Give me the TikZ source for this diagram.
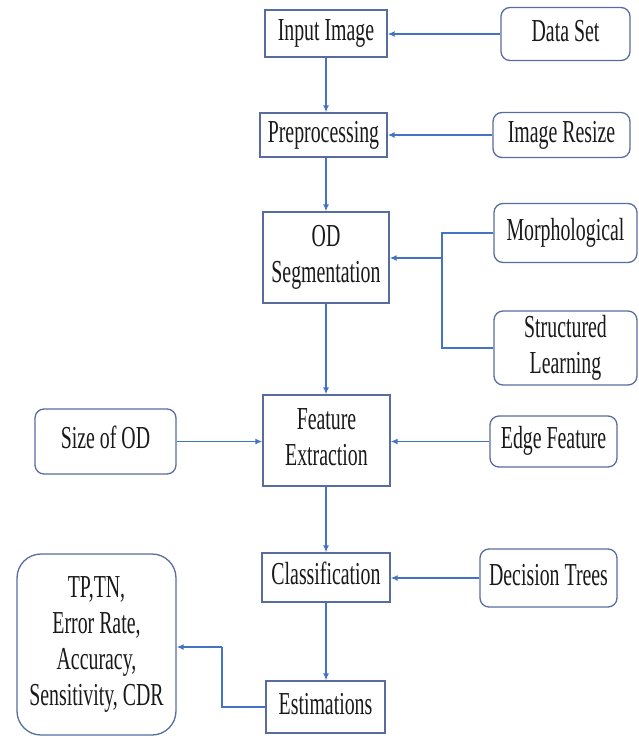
\documentclass[tikz,border=0pt]{standalone}
\usepackage{fontspec}
\setmainfont{Liberation Serif}
\newfontfamily\tnr{Liberation Serif}
\usetikzlibrary{arrows.meta}
\definecolor{boxc}{RGB}{88,108,158}
\definecolor{arrc}{RGB}{68,114,196}
\newcommand{\sq}[1]{\scalebox{0.62}[1]{\begin{tabular}{@{}c@{}}#1\end{tabular}}}
\tikzset{
  blk/.style={draw=boxc, line width=1.3pt, rectangle, inner sep=0pt, font=\tnr\fontsize{32}{36}\selectfont, text=black!90},
  rbox/.style={blk, rounded corners=9pt},
  arr/.style={draw=arrc, line width=1.6pt, -{Latex[length=7pt,width=6pt]}},
  ln/.style={draw=arrc, line width=1.6pt}
}
\begin{document}
\begin{tikzpicture}[x=1pt,y=-1pt]
\useasboundingbox (0,0) rectangle (638,736);
% main column
\node[blk, minimum width=122pt, minimum height=47pt] (input) at (326,33.5) {\sq{Input Image}};
\node[blk, minimum width=127pt, minimum height=44pt] (prep) at (323.5,135) {\sq{Preprocessing}};
\node[blk, minimum width=126pt, minimum height=91pt] (od) at (326,257.5) {\sq{OD\\Segmentation}};
\node[blk, minimum width=127pt, minimum height=91pt] (feat) at (326.5,440.5) {\sq{Feature\\Extraction}};
\node[blk, minimum width=128pt, minimum height=49pt] (class) at (326,577.5) {\sq{Classification}};
\node[blk, minimum width=119pt, minimum height=52pt] (estim) at (325.5,707) {\sq{Estimations}};
% side boxes
\node[rbox, minimum width=129pt, minimum height=53pt] (data) at (565.5,34) {\sq{Data Set}};
\node[rbox, minimum width=137pt, minimum height=45pt] (resize) at (561.5,135) {\sq{Image Resize}};
\node[rbox, minimum width=143pt, minimum height=59pt] (morph) at (565.5,233) {\sq{Morphological}};
\node[rbox, minimum width=143pt, minimum height=74pt] (struct) at (565.5,348) {\sq{Structured\\Learning}};
\node[rbox, minimum width=141pt, minimum height=65pt] (size) at (105.5,441.5) {\sq{Size of OD}};
\node[rbox, minimum width=127pt, minimum height=51pt] (edge) at (553.5,441.5) {\sq{Edge Feature}};
\node[rbox, minimum width=137pt, minimum height=58pt] (dtree) at (548.5,578) {\sq{Decision Trees}};
\node[blk, rounded corners=24pt, minimum width=159pt, minimum height=181pt] (tp) at (96.5,644.5) {\sq{TP,TN,\\Error Rate,\\Accuracy,\\Sensitivity, CDR}};
% vertical arrows
\draw[arr] (input.south) -- (input.south |- prep.north);
\draw[arr] (input.south |- prep.south) -- (input.south |- od.north);
\draw[arr] (od.south) -- (od.south |- feat.north);
\draw[arr] (od.south |- feat.south) -- (od.south |- class.north);
\draw[arr] (class.south) -- (class.south |- estim.north);
% side arrows
\draw[arr] (data.west) -- (data.west -| input.east);
\draw[arr] (resize.west) -- (resize.west -| prep.east);
\coordinate (j) at (442,258);
\draw[ln] (morph.west) -| (j);
\draw[ln] (struct.west) -| (j);
\draw[arr] (j) -- (j -| od.east);
\draw[arr] (size.east) -- (size.east -| feat.west);
\draw[arr] (edge.west) -- (edge.west -| feat.east);
\draw[arr] (dtree.west) -- (dtree.west -| class.east);
\coordinate (k) at (222,647);
\draw[ln] (estim.west) -| (k);
\draw[arr] (k) -- (k -| tp.east);
\end{tikzpicture}
\end{document}
